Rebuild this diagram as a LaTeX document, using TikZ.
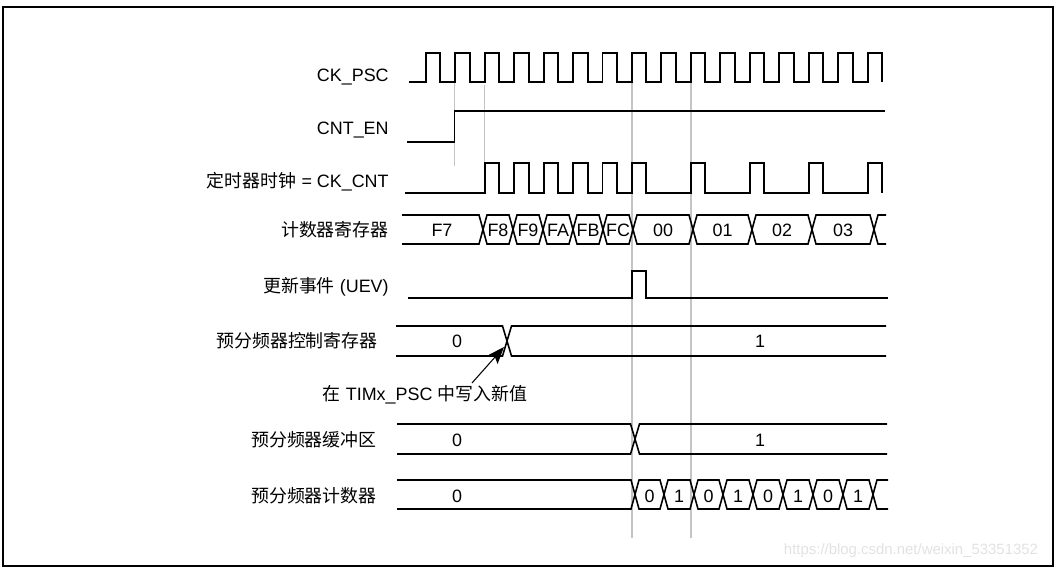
\documentclass[tikz,border=0pt]{standalone}
\usepackage{fontspec}
\setmainfont{Liberation Sans}
\newfontfamily\cjk{Noto Sans CJK SC}
\usetikzlibrary{arrows.meta,calc}
\definecolor{guide}{HTML}{C4C4C4}
\definecolor{wmark}{HTML}{E2E2E2}
\tikzset{
  >={Stealth[length=3.4mm,width=2.6mm,inset=0.7mm]},
  sig/.style={line width=1.1pt,line join=miter},
  bus/.style={line width=0.9pt,line join=miter},
  vline/.style={draw=guide,line width=0.6pt},
  lbl/.style={anchor=base east,inner sep=0pt,font=\fontsize{10.2}{12}\selectfont},
  val/.style={inner sep=0pt,font=\fontsize{10.2}{12}\selectfont},
  arr/.style={->,line width=0.6pt},
}
\begin{document}
\begin{tikzpicture}[x=0.02cm,y=-0.02cm]
\useasboundingbox (0,0) rectangle (1056,570);
\draw[line width=1.1pt] (3,7) rectangle (1053,566);
% row labels
\node[lbl] (lpsc) at (389,81.5) {CK\_PSC};
\node[lbl] (lcnten) at (389,134.5) {CNT\_EN};
\node[lbl] (lckcnt) at (389,187.5) {{\cjk 定时器时钟} = CK\_CNT};
\node[lbl] (lcntreg) at (389,236.5) {\cjk 计数器寄存器};
\node[lbl] (luev) at (389,292.5) {{\cjk 更新事件} (UEV)};
\node[lbl] (lpscctl) at (378,347.5) {\cjk 预分频器控制寄存器};
\node[lbl] (lpscbuf) at (377,446.5) {\cjk 预分频器缓冲区};
\node[lbl] (lpsccnt) at (377,502.5) {\cjk 预分频器计数器};
% guide lines
\draw[vline] (454.5,82) -- (454.5,166);
\draw[vline] (484.5,85) -- (484.5,165);
\draw[vline] (632,82) -- (632,538);
\draw[vline] (691,82) -- (691,538);
% CK_PSC
\draw[sig] (409,82) \foreach \k in {0,...,15} { -- ({425.8+29.45*\k},82) -- ++(0,-29) -- ++(14.5,0) -- ++(0,29) };
% CNT_EN
\draw[sig] (407,142) -- (454.5,142) -- (454.5,111) -- (885,111);
% CK_CNT
\draw[sig] (405,193) \foreach \k in {2,3,4,5,6,7,9,11,13,15} { -- ({425.8+29.45*\k},193) -- ++(0,-30) -- ++(14.5,0) -- ++(0,30) };
% counter register
\draw[bus] (402,215) -- (479,215) -- (483,229.5) -- (479,244) -- (402,244);
\node[val] (cv0) at (442,230) {F7};
\foreach \a/\b/\v [count=\i] in {483/513/F8,513/543/F9,543/573/FA,573/603/FB,603/633/FC,633/693/00,693/752/01,752/812/02,812/874/03} {
  \draw[bus] (\a,229.5) -- (\a+4,215) -- (\b-4,215) -- (\b,229.5) -- (\b-4,244) -- (\a+4,244) -- cycle;
  \node[val] (cv\i) at ({(\a+\b)/2},230) {\v};
}
\draw[bus] (886,215) -- (878,215) -- (874,229.5) -- (878,244) -- (886,244);
% UEV
\draw[sig] (408,298) -- (632,298) -- (632,271) -- (646,271) -- (646,298) -- (888,298);
% prescaler control register
\draw[bus] (396,326) -- (502.5,326) -- (507,341) -- (502.5,356) -- (396,356);
\draw[bus] (886,326) -- (511.5,326) -- (507,341) -- (511.5,356) -- (886,356);
\node[val] (ctl0) at (457,341) {0};
\node[val] (ctl1) at (760,341) {1};
\node[val,anchor=base] (lwr) at (425,400.5) {{\cjk 在} TIMx\_PSC {\cjk 中写入新值}};
\coordinate (wtip) at (504,347);
\draw[arr] ([xshift=0.94cm,yshift=0.04cm]lwr.north) -- (wtip);
% prescaler buffer
\draw[bus] (397,424) -- (630.5,424) -- (635,439) -- (630.5,454) -- (397,454);
\draw[bus] (887,424) -- (639.5,424) -- (635,439) -- (639.5,454) -- (887,454);
\node[val] (buf0) at (457,440) {0};
\node[val] (buf1) at (760,440) {1};
% prescaler counter
\draw[bus] (397,480) -- (631,480) -- (635,494.5) -- (631,509) -- (397,509);
\node[val] (pc0) at (457,496) {0};
\foreach \a/\b/\v [count=\i] in {635/664/0,664/694/1,694/723/0,723/753/1,753/783/0,783/813/1,813/843/0,843/873/1} {
  \draw[bus] (\a,494.5) -- (\a+4,480) -- (\b-4,480) -- (\b,494.5) -- (\b-4,509) -- (\a+4,509) -- cycle;
  \node[val] (pc\i) at ({(\a+\b)/2},496) {\v};
}
\draw[bus] (888,480) -- (877,480) -- (873,494.5) -- (877,509) -- (888,509);
\node[val,text=wmark,font=\fontsize{8.5}{10}\selectfont] (wm) at (911,551) {https://blog.csdn.net/weixin\_53351352};
\end{tikzpicture}
\end{document}
